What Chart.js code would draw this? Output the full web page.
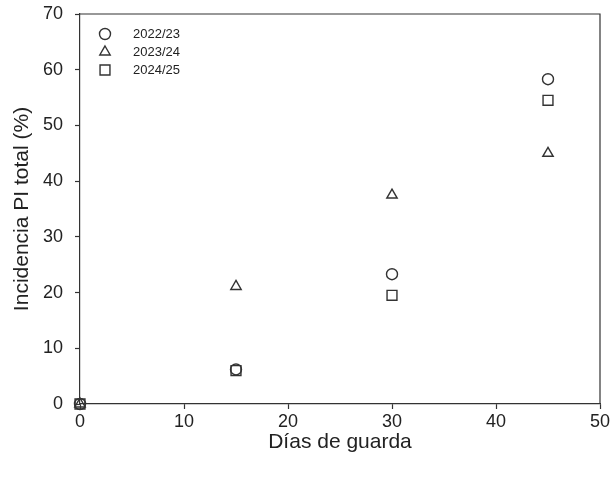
<!DOCTYPE html>
<html>
<head>
<meta charset="utf-8">
<script src="https://cdn.jsdelivr.net/npm/chart.js@4/dist/chart.umd.min.js"></script>
<style>
  html, body { margin: 0; padding: 0; background: #fff; }
  #wrap { width: 611px; height: 478px; }
</style>
</head>
<body>
<div id="wrap"><canvas id="chart" width="611" height="478"></canvas></div>
<script>
"use strict";

// days in storage
var dias = [0, 15, 30, 45];
// total PI incidence per season (%)
var temporada2223 = [0, 6.2, 23.3, 58.3];
var temporada2324 = [0, 21.1, 37.5, 45.0];
var temporada2425 = [0, 6.0, 19.5, 54.5];
var temporadas = ["2022/23", "2023/24", "2024/25"];
var xTicks = [0, 10, 20, 30, 40, 50];
var yTicks = [0, 10, 20, 30, 40, 50, 60, 70];

var INK = "#333";
var FONT = "'Liberation Sans', Arial, sans-serif";

function toPoints(ys) {
	return dias.map(function (d, i) { return { x: d, y: ys[i] }; });
}

function serie(label, ys, style, radius) {
	return {
		label: label,
		data: toPoints(ys),
		pointStyle: style,
		pointRadius: radius,
		pointHoverRadius: radius,
		pointBorderWidth: 1.4,
		borderColor: INK,
		backgroundColor: "rgba(0,0,0,0)",
		showLine: false,
		clip: false
	};
}

// labels may hang over the edges; the layout padding alone decides the plot box
function noOverhang(s) {
	s.paddingTop = 0;
	s.paddingBottom = 0;
	s.paddingLeft = 0;
	s.paddingRight = 0;
}

// box around the plot + legend inside the upper-left corner
var frame = {
	id: "frame",
	afterDatasetsDraw: function (chart) {
		var a = chart.chartArea, ctx = chart.ctx;
		ctx.save();
		ctx.strokeStyle = INK;
		ctx.lineWidth = 1.2;
		ctx.beginPath();
		ctx.moveTo(a.left, a.top);
		ctx.lineTo(a.right, a.top);
		ctx.lineTo(a.right, a.bottom);
		ctx.stroke();

		ctx.font = "13px " + FONT;
		ctx.textBaseline = "middle";
		chart.data.datasets.forEach(function (ds, i) {
			var y = a.top + 20 + i * 18;
			var x = a.left + 25;
			ctx.fillStyle = "rgba(0,0,0,0)";
			ctx.strokeStyle = INK;
			ctx.lineWidth = ds.pointBorderWidth;
			Chart.helpers.drawPoint(ctx, {
				pointStyle: ds.pointStyle,
				radius: ds.pointRadius,
				borderWidth: ds.pointBorderWidth
			}, x, y);
			ctx.fillStyle = "#222";
			ctx.fillText(ds.label, a.left + 53, y);
		});
		ctx.restore();
	}
};

new Chart(document.getElementById("chart"), {
	type: "scatter",
	data: {
		datasets: [
			serie(temporadas[0], temporada2223, "circle", 5.5),
			serie(temporadas[1], temporada2324, "triangle", 6),
			serie(temporadas[2], temporada2425, "rect", 7)
		]
	},
	options: {
		responsive: false,
		animation: false,
		layout: { padding: { top: 14, right: 11, left: 10, bottom: 23 } },
		plugins: {
			legend: { display: false },
			tooltip: { enabled: false }
		},
		scales: {
			x: {
				type: "linear",
				min: 0,
				max: 50,
				afterBuildTicks: function (s) { s.ticks = xTicks.map(function (v) { return { value: v }; }); },
				afterFit: function (s) { s.height = 51; noOverhang(s); },
				grid: { drawOnChartArea: false, drawTicks: true, tickLength: 5, tickColor: INK, tickWidth: 1.2 },
				border: { display: true, color: INK, width: 1.2 },
				ticks: { color: "#222", font: { family: FONT, size: 18 }, padding: 2, maxRotation: 0 },
				title: {
					display: true,
					text: "Días de guarda",
					color: "#222",
					font: { family: FONT, size: 21 },
					padding: { top: 0, bottom: 0 }
				}
			},
			y: {
				type: "linear",
				min: 0,
				max: 70,
				afterBuildTicks: function (s) { s.ticks = yTicks.map(function (v) { return { value: v }; }); },
				afterFit: function (s) { s.width = 70; noOverhang(s); },
				grid: { drawOnChartArea: false, drawTicks: true, tickLength: 5, tickColor: INK, tickWidth: 1.2 },
				border: { display: true, color: INK, width: 1.2 },
				ticks: { color: "#222", font: { family: FONT, size: 18 }, padding: 12 },
				title: {
					display: true,
					text: "Incidencia PI total (%)",
					color: "#222",
					font: { family: FONT, size: 21 },
					padding: { top: 0, bottom: 0 }
				}
			}
		}
	},
	plugins: [frame]
});
</script>
</body>
</html>
